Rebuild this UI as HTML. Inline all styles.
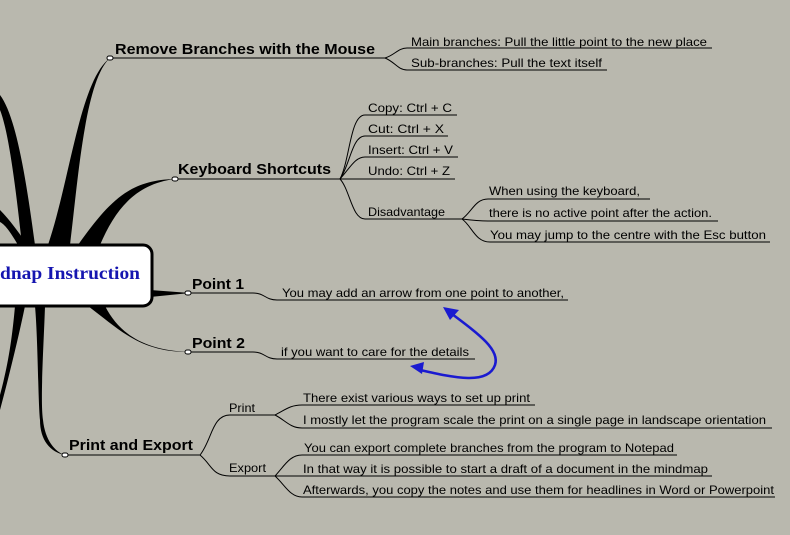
<!DOCTYPE html>
<html><head><meta charset="utf-8"><style>
html,body{margin:0;padding:0;background:#b9b8ae;}
svg{display:block}
text{font-family:"Liberation Sans",sans-serif;fill:#000}
.m{font-size:15px;font-weight:bold}
.s{font-size:12px}
</style></head><body>
<svg width="790" height="535" viewBox="0 0 790 535" xmlns="http://www.w3.org/2000/svg">
<rect width="790" height="535" fill="#b9b8ae"/>
<g fill="#000">
<path d="M0,95 C15,115 25,170 35,245 L22,245 C15,180 8,130 0,110 Z"/>
<path d="M0,210 C10,220 18,232 28,245 L18,245 C12,235 6,225 0,222 Z"/>
<path d="M48,245 C70,180 80,80 110,58 C85,80 78,180 70,245 Z"/>
<path d="M78,245 C110,200 130,180 175,179 C135,184 115,210 100,245 Z"/>
<path d="M150,290 L190,293 L150,297 Z"/>
<path d="M88,306 C120,330 140,352 188,352 C145,350 120,335 105,306 Z"/>
<path d="M25,306 C18,340 8,380 0,410 L0,395 C8,365 12,340 15,306 Z"/>
<path d="M45,306 C44,340 40,400 43,420 C45,440 55,452 65,455 C50,452 40,440 40,420 C38,400 38,340 35,306 Z"/>
</g>
<rect x="-20" y="245" width="172" height="61" rx="9" fill="#fff" stroke="#000" stroke-width="3"/>
<text x="0" y="279" textLength="140" lengthAdjust="spacingAndGlyphs" style="font-family:'Liberation Serif',serif;font-size:18px;font-weight:bold;fill:#1515b0">dnap Instruction</text>

<g fill="none" stroke="#000" stroke-width="1">
<path d="M110,58 H385"/>
<path d="M385,58 C395,55 398,48 407,48 H712"/>
<path d="M385,58 C395,62 398,70 407,70 H607"/>
<path d="M175,179 H340"/>
<path d="M340,179 C350,160 350,115 365,115 H457"/>
<path d="M340,179 C350,165 352,136 365,136 H448"/>
<path d="M340,179 C350,168 355,157 365,157 H458"/>
<path d="M340,179 H455"/>
<path d="M340,179 C350,190 352,219 365,219 H462"/>
<path d="M462,219 C472,212 475,199 488,199 H650"/>
<path d="M462,219 C470,220 478,221 488,221 H718"/>
<path d="M462,219 C472,226 475,242 490,242 H770"/>
<path d="M188,293 H253 C265,293 265,300 277,300 H568"/>
<path d="M188,352 H253 C265,352 265,359 277,359 H475"/>
<path d="M65,455 H200"/>
<path d="M200,455 C212,440 212,415 230,415 H275"/>
<path d="M200,455 C212,465 212,476 230,476 H275"/>
<path d="M275,415 C285,410 290,405 302,405 H535"/>
<path d="M275,415 C285,420 290,428 302,428 H772"/>
<path d="M275,476 C285,465 290,455 302,455 H677"/>
<path d="M275,476 C285,476 290,476 302,476 H712"/>
<path d="M275,476 C285,485 290,497 302,497 H775"/>
</g>
<g fill="#fff" stroke="#000" stroke-width="1">
<rect x="107" y="56" width="6" height="4" rx="2"/>
<rect x="172" y="177" width="6" height="4" rx="2"/>
<rect x="185" y="291" width="6" height="4" rx="2"/>
<rect x="185" y="350" width="6" height="4" rx="2"/>
<rect x="62" y="453" width="6" height="4" rx="2"/>
</g>
<path d="M452,314 C480,335 500,350 495,365 C488,385 455,378 420,370" fill="none" stroke="#1a1ad0" stroke-width="2.6"/>
<path d="M443,307 L459,310 L450,320 Z" fill="#1a1ad0"/>
<path d="M410,366 L424,362 L422,374 Z" fill="#1a1ad0"/>

<g>
<text class="m" x="115" y="54" textLength="260" lengthAdjust="spacingAndGlyphs">Remove Branches with the Mouse</text>
<text class="m" x="178" y="174" textLength="153" lengthAdjust="spacingAndGlyphs">Keyboard Shortcuts</text>
<text class="m" x="192" y="289" textLength="52" lengthAdjust="spacingAndGlyphs">Point 1</text>
<text class="m" x="192" y="348" textLength="53" lengthAdjust="spacingAndGlyphs">Point 2</text>
<text class="m" x="69" y="450" textLength="124" lengthAdjust="spacingAndGlyphs">Print and Export</text>
<text class="s" x="411" y="46" textLength="296" lengthAdjust="spacingAndGlyphs">Main branches: Pull the little point to the new place</text>
<text class="s" x="411" y="67" textLength="191" lengthAdjust="spacingAndGlyphs">Sub-branches: Pull the text itself</text>
<text class="s" x="368" y="112" textLength="84" lengthAdjust="spacingAndGlyphs">Copy: Ctrl + C</text>
<text class="s" x="368" y="133" textLength="76" lengthAdjust="spacingAndGlyphs">Cut: Ctrl +  X</text>
<text class="s" x="368" y="154" textLength="85" lengthAdjust="spacingAndGlyphs">Insert: Ctrl + V</text>
<text class="s" x="368" y="175" textLength="82" lengthAdjust="spacingAndGlyphs">Undo: Ctrl + Z</text>
<text class="s" x="368" y="216" textLength="77" lengthAdjust="spacingAndGlyphs">Disadvantage</text>
<text class="s" x="489" y="195" textLength="151" lengthAdjust="spacingAndGlyphs">When using the keyboard,</text>
<text class="s" x="489" y="217" textLength="223" lengthAdjust="spacingAndGlyphs">there is no active point after the action.</text>
<text class="s" x="490" y="239" textLength="276" lengthAdjust="spacingAndGlyphs">You may jump to the centre with the Esc button</text>
<text class="s" x="282" y="297" textLength="282" lengthAdjust="spacingAndGlyphs">You may add an arrow from one point to another,</text>
<text class="s" x="281" y="356" textLength="188" lengthAdjust="spacingAndGlyphs">if you want to care for the details</text>
<text class="s" x="229" y="412" textLength="26" lengthAdjust="spacingAndGlyphs">Print</text>
<text class="s" x="229" y="472" textLength="37" lengthAdjust="spacingAndGlyphs">Export</text>
<text class="s" x="303" y="402" textLength="227" lengthAdjust="spacingAndGlyphs">There exist various ways to set up print</text>
<text class="s" x="303" y="424" textLength="463" lengthAdjust="spacingAndGlyphs">I mostly let the program scale the print on a single page in landscape orientation</text>
<text class="s" x="304" y="452" textLength="370" lengthAdjust="spacingAndGlyphs">You can export complete branches from the program to Notepad</text>
<text class="s" x="303" y="473" textLength="405" lengthAdjust="spacingAndGlyphs">In that way it is possible to start a draft of a document in the mindmap</text>
<text class="s" x="303" y="494" textLength="471" lengthAdjust="spacingAndGlyphs">Afterwards, you copy the notes and use them for headlines in Word or Powerpoint</text>
</g>
</svg>
</body></html>
